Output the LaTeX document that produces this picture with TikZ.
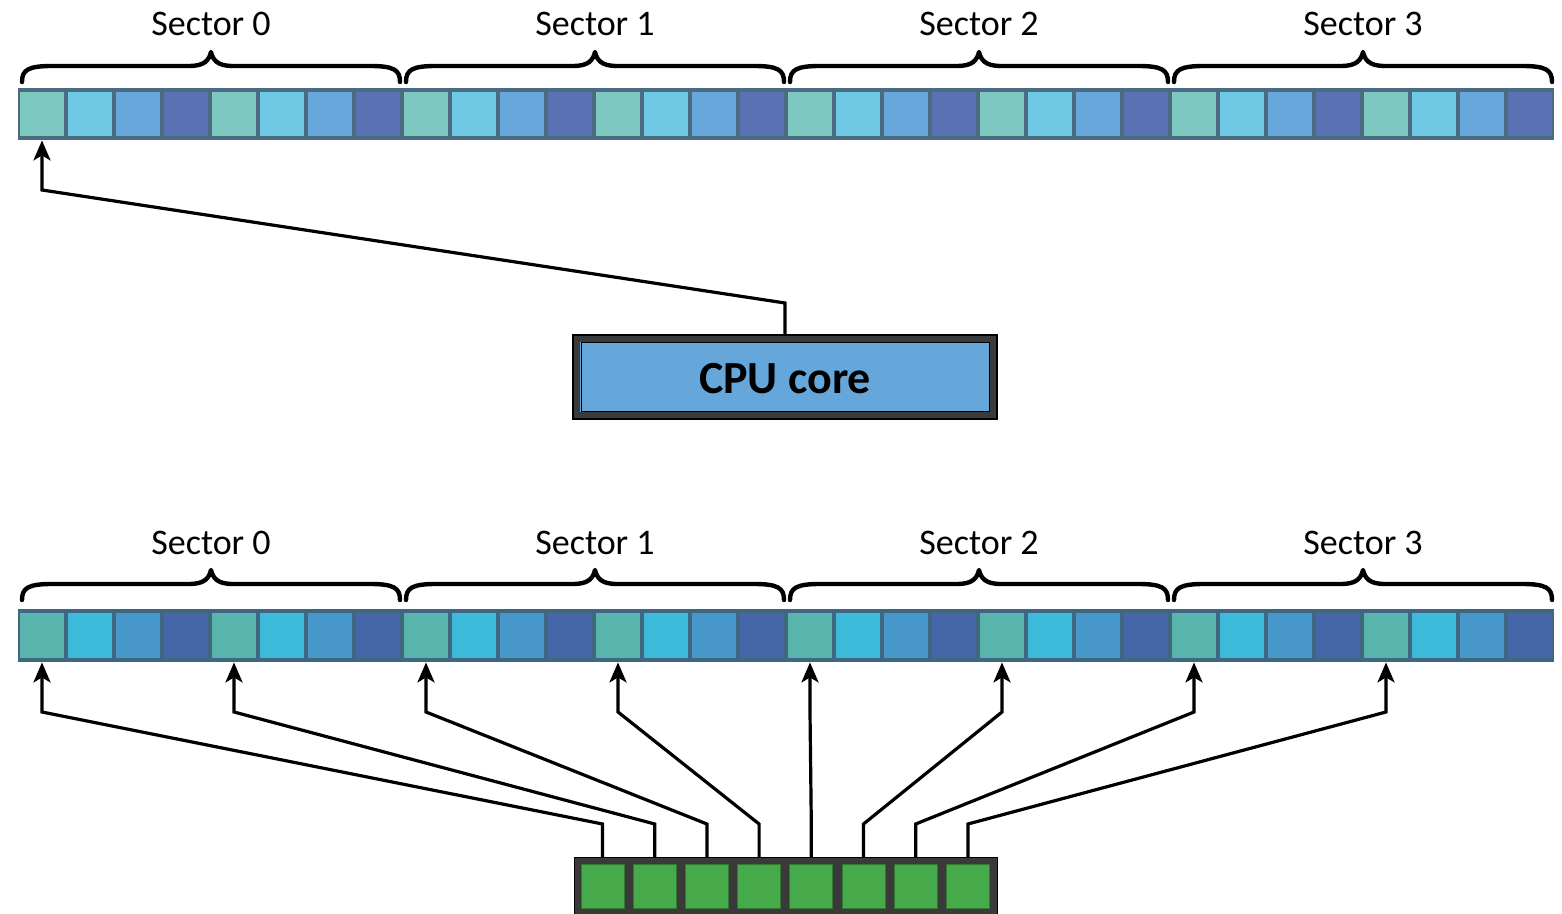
\documentclass[tikz,border=0pt]{standalone}
\usepackage{fontspec}
\setmainfont{Carlito}
\usetikzlibrary{arrows.meta,calc}
\definecolor{cA}{HTML}{7DC8C0}
\definecolor{cB}{HTML}{6FC8E4}
\definecolor{cC}{HTML}{67A7DB}
\definecolor{cD}{HTML}{5B71B6}
\definecolor{dA}{HTML}{5AB5AE}
\definecolor{dB}{HTML}{3DBBDB}
\definecolor{dC}{HTML}{4797CB}
\definecolor{dD}{HTML}{4567A8}
\definecolor{barT}{HTML}{4A6B82}
\definecolor{barB}{HTML}{3F6781}
\definecolor{cpublue}{HTML}{66A7DB}
\definecolor{frame}{HTML}{3A3A3A}
\definecolor{grn}{HTML}{47AA4A}
\definecolor{grnedge}{HTML}{2F7A30}
\tikzset{
  cellbox/.style={rectangle, minimum width=22pt, minimum height=22pt, inner sep=0pt, draw=none},
  gcell/.style={rectangle, minimum width=21.5pt, minimum height=22pt, inner sep=0pt, fill=grn, draw=grnedge, line width=0.5pt},
  bracestyle/.style={line width=2.2pt, black, line cap=round, line join=round},
  seclabel/.style={anchor=base, font=\fontsize{18pt}{20pt}\selectfont, inner sep=0pt},
  arr/.style={line width=1.6pt, black, -{Stealth[length=10pt,width=8.5pt,inset=2.5pt]}},
}
\begin{document}
\begin{tikzpicture}[x=0.5pt,y=-0.5pt]
\useasboundingbox (0,0) rectangle (1562,914);
% bars
\node[rectangle, minimum width=768pt, minimum height=26pt, inner sep=0pt, fill=barT] (topbar) at (786,114) {};
\node[rectangle, minimum width=768pt, minimum height=26.5pt, inner sep=0pt, fill=barB] (botbar) at (786,635.5) {};
\foreach \i in {0,...,31}{
  \pgfmathtruncatemacro{\m}{mod(\i,4)}
  \ifcase\m \def\ct{cA}\def\cb{dA}\or \def\ct{cB}\def\cb{dB}\or \def\ct{cC}\def\cb{dC}\else \def\ct{cD}\def\cb{dD}\fi
  \node[cellbox, fill=\ct] (t\i) at ({42+48*\i},114) {};
  \node[cellbox, fill=\cb, minimum height=22.5pt] (b\i) at ({42+48*\i},635.5) {};
}
% braces and labels
\foreach \s/\lab in {0/Sector 0,1/Sector 1,2/Sector 2,3/Sector 3}{
  \pgfmathsetmacro{\xa}{18+384*\s+4}
  \pgfmathsetmacro{\xb}{18+384*(\s+1)-2}
  \pgfmathsetmacro{\xc}{(\xa+\xb)/2}
  \foreach \dy in {0,518}{
    \draw[bracestyle] (\xa,82+\dy) .. controls (\xa,70+\dy) and (\xa+6,66+\dy) .. (\xa+30,66+\dy)
      -- (\xc-22,66+\dy) .. controls (\xc-6,66+\dy) and (\xc-2,60+\dy) .. (\xc,52+\dy)
      .. controls (\xc+2,60+\dy) and (\xc+6,66+\dy) .. (\xc+22,66+\dy)
      -- (\xb-30,66+\dy) .. controls (\xb-6,66+\dy) and (\xb,70+\dy) .. (\xb,82+\dy);
  }
  \node[seclabel] (lt\s) at (\xc,36) {\lab};
  \node[seclabel] (lb\s) at (\xc,554) {\lab};
}
% CPU core
\node[rectangle, minimum width=208.5pt, minimum height=38.5pt, inner sep=0pt, fill=cpublue, draw=frame, line width=3.5pt,
  font=\bfseries\fontsize{23pt}{25pt}\selectfont, text height=20pt, text depth=3.5pt] (cpu) at (785,377) {CPU core};
\draw[black, line width=0.6pt] (573,335) rectangle (997,419);
\draw[black, line width=0.5pt] (581,343) rectangle (989,411);
\draw[arr] (cpu.north) -- (cpu.north |- 0,303) -- (t0.south |- 0,190) -- (t0.south |- topbar.south);
% green register
\node[rectangle, minimum width=211.5pt, minimum height=30pt, inner sep=0pt, fill=frame, draw=black, line width=0.5pt, anchor=north west] (green) at (574,857) {};
\foreach \k in {0,...,7}{
  \node[gcell] (g\k) at ({602.5+52.2*\k},886) {};
  \pgfmathtruncatemacro{\j}{4*\k}
  \draw[arr] (g\k |- green.north) -- (g\k |- 0,824) -- (b\j |- 0,712) -- (b\j.south |- botbar.south);
}
\end{tikzpicture}
\end{document}
